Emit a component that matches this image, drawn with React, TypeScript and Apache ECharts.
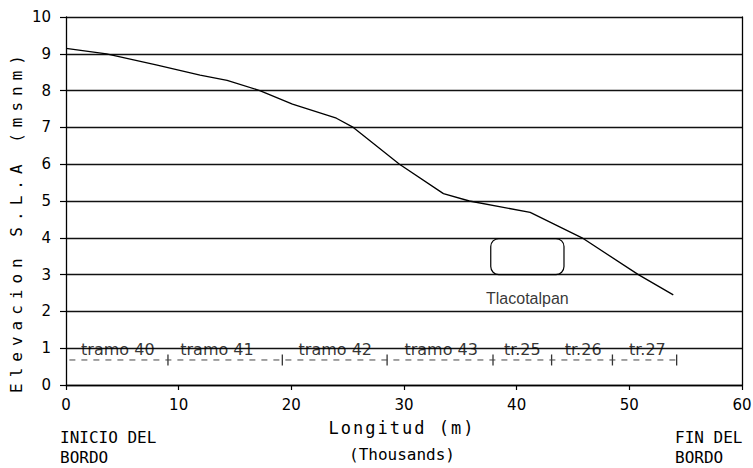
import React, { useEffect, useRef } from "react";
import * as echarts from "echarts";

// Elevation profile (x in thousands of metres, y in m above sea level)
const profileX = [0, 3.6, 8, 11.9, 14.3, 17.2, 20.1, 24, 25.5, 29.6, 33.5, 35.8, 41.2, 45.8, 50.8, 53.9];
const profileY = [9.15, 9.0, 8.7, 8.42, 8.28, 8.0, 7.63, 7.25, 7.0, 6.0, 5.2, 5.0, 4.69, 4.0, 3.0, 2.45];

// Reach ("tramo") labels along the bottom
const tramoNames = ["tramo 40", "tramo 41", "tramo 42", "tramo 43", "tr.25", "tr.26", "tr.27"];
const tramoX = [4.6, 13.4, 23.9, 33.3, 40.5, 45.9, 51.6];
const tramoY = 0.96;

// Reach boundaries and reference dashed line
const boundaryX = [9.05, 19.2, 28.5, 37.9, 43.1, 48.5, 54.2];
const refLineX = [0.3, 54.6];
const refLineY = 0.68;

// Tlacotalpan town marker
const townName = "Tlacotalpan";
const townBoxX = [37.7, 44.2];
const townBoxY = [3.0, 3.98];
const townLabelX = 40.95;
const townLabelY = 2.35;

// Axes
const xMin = 0;
const xMax = 60;
const xStep = 10;
const yMin = 0;
const yMax = 10;
const yStep = 1;

const yTitle = "Elevacion S.L.A (msnm)";
const xTitle = "Longitud (m)";
const xSubTitle = "(Thousands)";
const startLabel = ["INICIO DEL", "BORDO"];
const endLabel = ["FIN DEL", "BORDO"];

const MONO = '"DejaVu Sans Mono", monospace';
const SANS = '"DejaVu Sans", sans-serif';

export default function App() {
  const ref = useRef<HTMLDivElement>(null);

  useEffect(() => {
    if (!ref.current) return;
    const chart = echarts.init(ref.current, null, { renderer: "svg" });

    const spacing: Record<string, string> = {
      [yTitle]: "6px",
      [xTitle]: "2px",
    };
    const applySpacing = () => {
      if (!ref.current) return;
      ref.current.querySelectorAll("text").forEach((t) => {
        const s = spacing[(t.textContent || "").trim()];
        if (s) (t as SVGTextElement).style.letterSpacing = s;
      });
    };

    const option: any = {
      animation: false,
      backgroundColor: "#fff",
      grid: { left: 66, right: 11, top: 17, bottom: 83, outerBoundsMode: "none" },
      xAxis: {
        type: "value",
        min: xMin,
        max: xMax,
        interval: xStep,
        axisLine: { show: true, lineStyle: { color: "#000", width: 1.3 } },
        axisTick: { show: true, length: 5, lineStyle: { color: "#000", width: 1.2 } },
        splitLine: { show: false },
        axisLabel: { color: "#000", fontFamily: SANS, fontSize: 15, margin: 12 },
      },
      yAxis: [
        {
          type: "value",
          min: yMin,
          max: yMax,
          interval: yStep,
          axisLine: { show: true, lineStyle: { color: "#000", width: 1.3 } },
          axisTick: { show: true, length: 6, lineStyle: { color: "#000", width: 1.2 } },
          splitLine: { show: true, lineStyle: { color: "#111", width: 1.4 } },
          axisLabel: { color: "#000", fontFamily: SANS, fontSize: 15, margin: 15 },
        },
        {
          type: "value",
          position: "right",
          min: yMin,
          max: yMax,
          interval: yStep,
          axisLine: { show: true, lineStyle: { color: "#000", width: 1.3 } },
          axisTick: { show: false },
          axisLabel: { show: false },
          splitLine: { show: false },
        },
      ],
      series: [
        {
          type: "line",
          data: profileX.map((x, i) => [x, profileY[i]]),
          symbol: "none",
          lineStyle: { color: "#000", width: 1.3 },
          z: 5,
          silent: true,
        },
        {
          type: "line",
          data: refLineX.map((x) => [x, refLineY]),
          symbol: "none",
          lineStyle: { color: "#444", width: 1, type: [6, 6] },
          silent: true,
        },
        {
          type: "scatter",
          data: boundaryX.map((x) => [x, refLineY]),
          symbol: "rect",
          symbolSize: [1.3, 11],
          itemStyle: { color: "#000" },
          silent: true,
        },
        {
          type: "scatter",
          data: tramoNames.map((n, i) => ({ name: n, value: [tramoX[i], tramoY] })),
          symbolSize: 1,
          itemStyle: { color: "rgba(0,0,0,0)" },
          label: {
            show: true,
            position: "inside",
            formatter: "{b}",
            color: "#000",
            fontFamily: SANS,
            fontSize: 16,
          },
          silent: true,
        },
        {
          type: "custom",
          data: [[townBoxX[0], townBoxX[1], townBoxY[0], townBoxY[1]]],
          encode: { x: [0, 1], y: [2, 3] },
          renderItem: (params: any, api: any) => {
            const p1 = api.coord([api.value(0), api.value(3)]);
            const p2 = api.coord([api.value(1), api.value(2)]);
            return {
              type: "rect",
              shape: { x: p1[0], y: p1[1], width: p2[0] - p1[0], height: p2[1] - p1[1], r: 8 },
              style: { fill: "none", stroke: "#000", lineWidth: 1.2 },
            };
          },
          silent: true,
        },
        {
          type: "scatter",
          data: [{ name: townName, value: [townLabelX, townLabelY] }],
          symbolSize: 1,
          itemStyle: { color: "rgba(0,0,0,0)" },
          label: {
            show: true,
            position: "inside",
            formatter: "{b}",
            color: "#000",
            fontFamily: '"Liberation Sans Narrow", "Liberation Sans", sans-serif',
            fontSize: 16,
          },
          silent: true,
        },
      ],
      graphic: [
        {
          type: "text",
          x: 16,
          y: 221,
          rotation: Math.PI / 2,
          style: { text: yTitle, font: `16px ${MONO}`, fill: "#000", align: "center", verticalAlign: "middle" },
        },
        {
          type: "text",
          x: 402,
          y: 428,
          style: { text: xTitle, font: `17px ${MONO}`, fill: "#000", align: "center", verticalAlign: "middle" },
        },
        {
          type: "text",
          x: 402,
          y: 454,
          style: { text: xSubTitle, font: `16px ${MONO}`, fill: "#000", align: "center", verticalAlign: "middle" },
        },
        {
          type: "text",
          x: 60,
          y: 437,
          style: { text: startLabel[0], font: `16px ${MONO}`, fill: "#000", align: "left", verticalAlign: "middle" },
        },
        {
          type: "text",
          x: 60,
          y: 457,
          style: { text: startLabel[1], font: `16px ${MONO}`, fill: "#000", align: "left", verticalAlign: "middle" },
        },
        {
          type: "text",
          x: 675,
          y: 437,
          style: { text: endLabel[0], font: `16px ${MONO}`, fill: "#000", align: "left", verticalAlign: "middle" },
        },
        {
          type: "text",
          x: 675,
          y: 457,
          style: { text: endLabel[1], font: `16px ${MONO}`, fill: "#000", align: "left", verticalAlign: "middle" },
        },
      ],
    };

    chart.on("finished", applySpacing);
    chart.setOption(option);
    applySpacing();
    const t1 = setTimeout(applySpacing, 0);
    const t2 = setTimeout(applySpacing, 60);

    return () => {
      clearTimeout(t1);
      clearTimeout(t2);
      chart.dispose();
    };
  }, []);

  return (
    <div
      ref={ref}
      style={{ position: "fixed", left: 0, top: 0, width: 753, height: 468, background: "#fff" }}
    />
  );
}
